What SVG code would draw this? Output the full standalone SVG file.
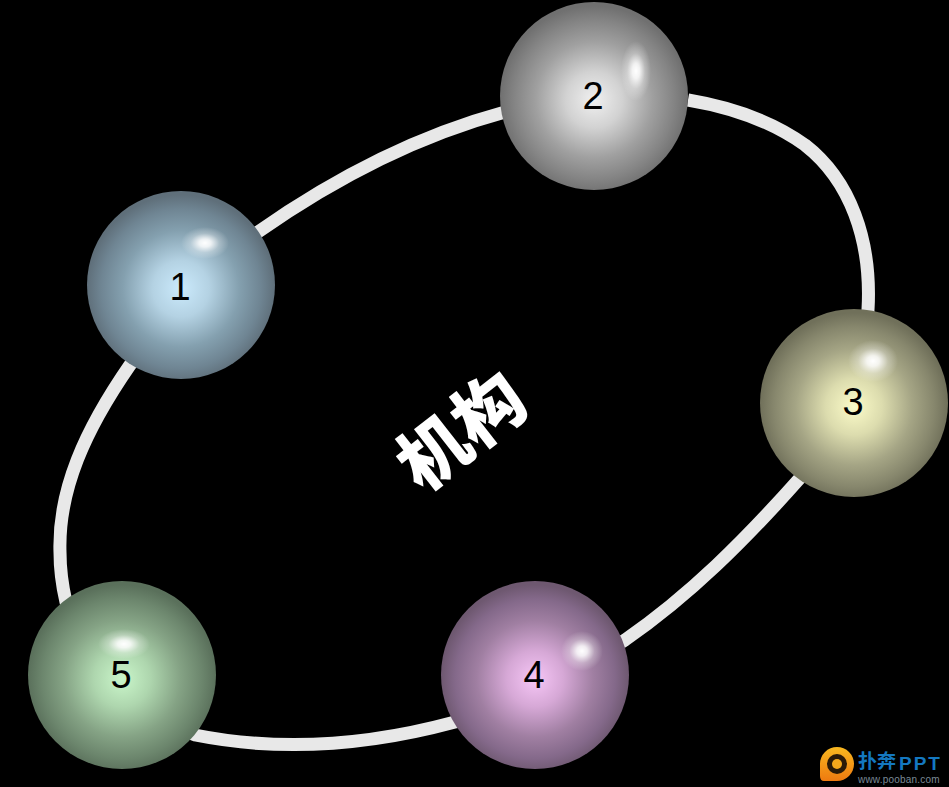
<svg xmlns="http://www.w3.org/2000/svg" width="949" height="787" viewBox="0 0 949 787">
<style>
.num{font-family:"Liberation Sans",Arial,sans-serif;font-size:38px;fill:#000;text-anchor:middle}
.ball{stroke:none}
</style>
<defs>
<radialGradient id="g1" cx="50%" cy="52%" r="50%"><stop offset="0" stop-color="#cbeafc"/><stop offset=".3" stop-color="#b4d2e3"/><stop offset=".62" stop-color="#84a0af"/><stop offset=".85" stop-color="#6f8593"/><stop offset="1" stop-color="#5f6f7a"/></radialGradient>
<radialGradient id="g2" cx="50%" cy="52%" r="50%"><stop offset="0" stop-color="#f0f0f0"/><stop offset=".3" stop-color="#d2d2d2"/><stop offset=".62" stop-color="#a0a0a0"/><stop offset=".85" stop-color="#848484"/><stop offset="1" stop-color="#707070"/></radialGradient>
<radialGradient id="g3" cx="50%" cy="52%" r="50%"><stop offset="0" stop-color="#fbfbc8"/><stop offset=".3" stop-color="#dcdcae"/><stop offset=".62" stop-color="#a5a585"/><stop offset=".85" stop-color="#87876d"/><stop offset="1" stop-color="#70705a"/></radialGradient>
<radialGradient id="g4" cx="50%" cy="52%" r="50%"><stop offset="0" stop-color="#f6c6f6"/><stop offset=".3" stop-color="#d6a8d6"/><stop offset=".62" stop-color="#a07fa2"/><stop offset=".85" stop-color="#84698a"/><stop offset="1" stop-color="#6e5870"/></radialGradient>
<radialGradient id="g5" cx="50%" cy="52%" r="50%"><stop offset="0" stop-color="#caf6ca"/><stop offset=".3" stop-color="#aed6ae"/><stop offset=".62" stop-color="#85a385"/><stop offset=".85" stop-color="#6c866d"/><stop offset="1" stop-color="#5a705b"/></radialGradient>
<radialGradient id="hl"><stop offset="0" stop-color="#fff" stop-opacity="1"/><stop offset=".25" stop-color="#fff" stop-opacity=".85"/><stop offset=".6" stop-color="#fff" stop-opacity=".3"/><stop offset="1" stop-color="#fff" stop-opacity="0"/></radialGradient>
<linearGradient id="logo" x1="0" y1="0" x2="0" y2="1"><stop offset="0" stop-color="#f8b820"/><stop offset="1" stop-color="#ee7a10"/></linearGradient>
</defs>
<rect width="949" height="787" fill="#000"/>
<g id="connectors">
<path d="M505,112 C420,135 335,178 258,232 C200,272 165,318 130,365 C85,430 58,490 60,552 C60,570 62,585 66,602 C90,670 140,715 195,735 C280,752 370,745 455,722 C520,700 570,675 625,640 C690,595 745,540 800,478 C835,430 866,370 868,310 C872,240 850,180 805,145 C770,120 730,107 688,100" fill="none" stroke="#e8e8e8" stroke-width="13"/>
</g>
<g id="node-1">
<circle class="ball" cx="181" cy="285" r="94" fill="url(#g1)"/>
<ellipse cx="205" cy="243" rx="24" ry="16" fill="url(#hl)"/>
<text class="num" x="180" y="300">1</text>
</g>
<g id="node-2">
<circle class="ball" cx="594" cy="96" r="94" fill="url(#g2)"/>
<ellipse cx="636" cy="71" rx="15" ry="30" fill="url(#hl)"/>
<text class="num" x="593" y="109">2</text>
</g>
<g id="node-3">
<circle class="ball" cx="854" cy="403" r="94" fill="url(#g3)"/>
<ellipse cx="873" cy="361" rx="25" ry="21" fill="url(#hl)"/>
<text class="num" x="853" y="415">3</text>
</g>
<g id="node-4">
<circle class="ball" cx="535" cy="675" r="94" fill="url(#g4)"/>
<ellipse cx="582" cy="651" rx="21" ry="20" fill="url(#hl)"/>
<text class="num" x="534" y="688">4</text>
</g>
<g id="node-5">
<circle class="ball" cx="122" cy="675" r="94" fill="url(#g5)"/>
<ellipse cx="124" cy="644" rx="26" ry="15" fill="url(#hl)"/>
<text class="num" x="121" y="688">5</text>
</g>
<g id="center-label">
<text x="0" y="0" transform="translate(477,451) rotate(-38)" font-family="'Noto Sans CJK SC','Noto Sans CJK JP',sans-serif" font-weight="900" font-size="70" fill="#fff" text-anchor="middle">机构</text>
</g>
<g id="logo">
<path d="M837,781 L824,781 Q820,781 820,776 L820,764 A17,17 0 1 1 837,781 Z" fill="url(#logo)"/>
<circle cx="837" cy="764" r="10" fill="#2a1a08"/>
<circle cx="837" cy="764" r="5" fill="#f5a81c"/>
<text x="858" y="768" font-family="'Noto Sans CJK SC',sans-serif" font-weight="700" font-size="19" fill="#1478c0">扑奔</text>
<text x="899" y="770" font-family="'Liberation Sans',sans-serif" font-weight="700" font-size="19" letter-spacing="2" fill="#1478c0">PPT</text>
<text x="858" y="783" font-family="'Liberation Sans',sans-serif" font-size="10" letter-spacing=".2" fill="#7a8a96">www.pooban.com</text>
</g>
</svg>
